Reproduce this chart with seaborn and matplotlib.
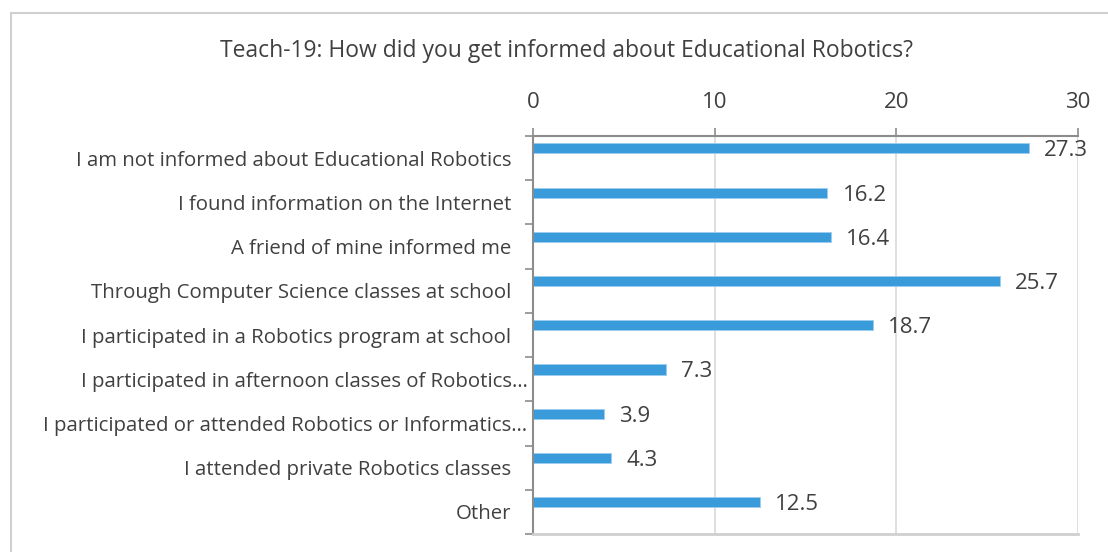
import matplotlib
matplotlib.use("Agg")
import matplotlib.pyplot as plt
import matplotlib.transforms as mtransforms
from matplotlib.patches import Rectangle
import seaborn as sns
import pandas as pd

title = "Teach-19: How did you get informed about Educational Robotics?"
categories = [
    "I am not informed about Educational Robotics",
    "I found information on the Internet",
    "A friend of mine informed me",
    "Through Computer Science classes at school",
    "I participated in a Robotics program at school",
    "I participated in afternoon classes of Robotics\u2026",
    "I participated or attended Robotics or Informatics\u2026",
    "I attended private Robotics classes",
    "Other",
]
values = [27.3, 16.2, 16.4, 25.7, 18.7, 7.3, 3.9, 4.3, 12.5]
x_ticks = [0, 10, 20, 30]

df = pd.DataFrame({"answer": categories, "percent": values})

sns.set_theme(style="white")
plt.rcParams["font.family"] = ["Open Sans", "DejaVu Sans"]

text_col = "#404040"
bar_col = "#3A9BDA"
grid_col = "#D9D9D9"
spine_col = "#8C8C8C"

fig = plt.figure(figsize=(11.08, 5.52), dpi=100)
W, H = 1108, 552
ax = fig.add_axes([533 / W, 1 - 534 / H, (1078 - 533) / W, (534 - 136) / H])

sns.barplot(data=df, x="percent", y="answer", orient="h", color=bar_col,
            width=0.23, saturation=1, ax=ax, edgecolor="#9CCDEE", linewidth=0.6)

# bars sit in the upper part of each category band
band_shift = 0.22
n = len(categories)
ax.set_ylim(n - 0.5 + band_shift, -0.5 + band_shift)
ax.set_yticks([i + band_shift for i in range(n)], labels=categories)
ax.set_yticks([i - 0.5 + band_shift for i in range(n + 1)], minor=True)

ax.set_xlim(0, 30)
ax.set_xticks(x_ticks)
ax.set_xticklabels([str(t) for t in x_ticks])
ax.xaxis.tick_top()
ax.set_xlabel("")
ax.set_ylabel("")

# vertical gridlines
ax.grid(axis="x", color=grid_col, linewidth=1.2)
ax.set_axisbelow(True)

for side in ["left", "top"]:
    ax.spines[side].set_visible(True)
    ax.spines[side].set_color(spine_col)
    ax.spines[side].set_linewidth(1.5)
ax.spines["bottom"].set_visible(True)
ax.spines["bottom"].set_color("#CFCFCF")
ax.spines["bottom"].set_linewidth(2)
ax.spines["right"].set_visible(False)

ax.tick_params(axis="x", which="major", top=True, bottom=False, length=6,
               width=1.2, color=spine_col, labelsize=16, labelcolor=text_col,
               pad=10.5, direction="out")
ax.tick_params(axis="y", which="major", left=False, length=0,
               labelsize=14.7, labelcolor=text_col, pad=15.5)
ax.tick_params(axis="y", which="minor", left=True, length=6, width=1.2,
               color=spine_col, direction="out")

# truncated labels sit closer to the axis
shift = mtransforms.ScaledTranslation(16 / 100, 0, fig.dpi_scale_trans)
for lab in ax.get_yticklabels():
    if lab.get_text().endswith("\u2026"):
        lab.set_transform(lab.get_transform() + shift)

for container in ax.containers:
    texts = ax.bar_label(container,
                         labels=[f"{v:.1f}" for v in container.datavalues],
                         padding=11, fontsize=16, color=text_col)
    for t in texts:
        t.set_va("center_baseline")

fig.text(566 / W, 1 - 51 / H, title, fontsize=16.5, color=text_col,
         ha="center", va="center")

fig.patches.append(Rectangle((11 / W, -0.05), 1.1, 1 - 13 / H + 0.05,
                             transform=fig.transFigure, fill=False,
                             edgecolor="#D0D0D0", linewidth=1.5))

fig.savefig("out.png", dpi=100)
